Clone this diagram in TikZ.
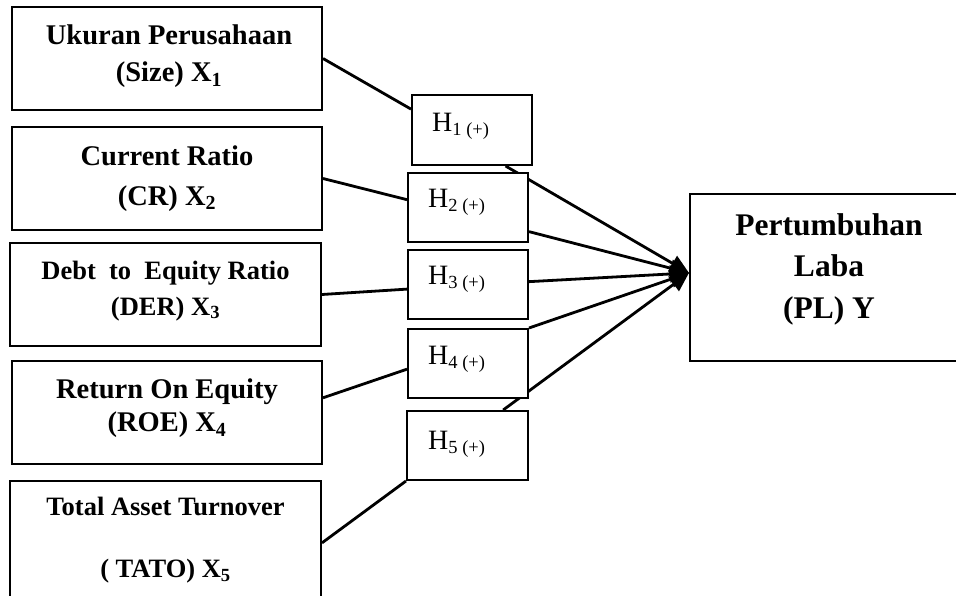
\documentclass[tikz,border=0pt]{standalone}
\usepackage{fontspec}
\setmainfont{Liberation Serif}
\usetikzlibrary{arrows.meta,calc}
\pgfdeclarelayer{bg}
\pgfsetlayers{bg,main}
\begin{document}
\begin{tikzpicture}[x=1pt,y=-1pt,
  varbox/.style={draw=black, line width=2pt, fill=white, minimum width=310pt, minimum height=103pt, inner sep=0pt},
  hbox/.style={draw=black, line width=2pt, fill=white, minimum width=120pt, minimum height=69pt, inner sep=0pt},
  txtA/.style={font=\bfseries\fontsize{28.5}{36.7}\selectfont, align=center, inner sep=0pt},
  txtB/.style={font=\bfseries\fontsize{26.5}{35.7}\selectfont, align=center, inner sep=0pt},
  htxt/.style={font=\fontsize{28}{30}\selectfont, inner sep=0pt, anchor=base west},
  link/.style={line width=2.8pt, black},
  arr/.style={link, -{Triangle[length=19pt,width=17pt]}}
]
\useasboundingbox (0,0) rectangle (956,596);
\clip (0,0) rectangle (956,596);

% variable boxes
\node[varbox] (X1) at (167,58.5) {};
\node[varbox] (X2) at (167,178.5) {};
\node[varbox, minimum width=311pt] (X3) at (165.5,294.5) {};
\node[varbox] (X4) at (167,412.5) {};
\node[varbox, minimum width=311pt, minimum height=129pt] (X5) at (165.5,545.5) {};
\node[draw=black, line width=2pt, fill=white, minimum width=280pt, minimum height=167pt, inner sep=0pt] (PL) at (830,277.5) {};

\node[txtA] (tX1) at (169,56.2) {Ukuran Perusahaan\\(Size) X\textsubscript{1}};
\node[txtA, font=\bfseries\fontsize{28.5}{39.5}\selectfont] (tX2) at (167,178.5) {Current Ratio\\(CR) X\textsubscript{2}};
\node[txtB] (tX3) at (165.5,290.8) {Debt~ to~ Equity Ratio\\(DER) X\textsubscript{3}};
\node[txtA, font=\bfseries\fontsize{28.5}{33.4}\selectfont] (tX4) at (167,408.2) {Return On Equity\\(ROE) X\textsubscript{4}};
\node[txtB, font=\bfseries\fontsize{26.5}{62}\selectfont] (tX5) at (165.5,540.6) {Total Asset Turnover\\( TATO) X\textsubscript{5}};
\node[txtA, font=\bfseries\fontsize{31.5}{41.7}\selectfont] (tPL) at (829,269.2) {Pertumbuhan\\Laba\\(PL) Y};

% hypothesis boxes
\node[hbox, minimum height=70pt] (H1) at (472,130) {};
\node[hbox] (H2) at (468,207.5) {};
\node[hbox] (H3) at (468,284.5) {};
\node[hbox] (H4) at (468,363.5) {};
\node[hbox, minimum width=121pt] (H5) at (467.5,445.5) {};

\node[htxt] (tH1) at ($(H1.north west)+(21,38)$) {H\raisebox{-4pt}{\fontsize{18.5}{18}\selectfont 1 (+)}};
\node[htxt] (tH2) at ($(H2.north west)+(21,35.3)$) {H\raisebox{-4pt}{\fontsize{18.5}{18}\selectfont 2 (+)}};
\node[htxt] (tH3) at ($(H3.north west)+(21,35)$) {H\raisebox{-4pt}{\fontsize{18.5}{18}\selectfont 3 (+)}};
\node[htxt] (tH4) at ($(H4.north west)+(21,36)$) {H\raisebox{-4pt}{\fontsize{18.5}{18}\selectfont 4 (+)}};
\node[htxt] (tH5) at ($(H5.north west)+(22,39)$) {H\raisebox{-4pt}{\fontsize{18.5}{18}\selectfont 5 (+)}};

\coordinate (tip) at ($(PL.north west)!0.473!(PL.south west)$);

\begin{pgfonlayer}{bg}
\draw[link] (X1.east) -- ($(H1.north west)!0.21!(H1.south west)$);
\draw[link] (X2.east) -- ($(H2.north west)!0.39!(H2.south west)$);
\draw[link] (X3.east) -- ($(H3.north west)!0.565!(H3.south west)$);
\draw[link] ($(X4.north east)!0.36!(X4.south east)$) -- ($(H4.north west)!0.58!(H4.south west)$);
\draw[link] ($(X5.north east)!0.48!(X5.south east)$) -- (H5.south west);

\draw[arr] ($(H1.south west)!0.775!(H1.south east)$) -- (tip);
\draw[arr] ($(H2.north east)!0.84!(H2.south east)$) -- (tip);
\draw[arr] ($(H3.north east)!0.46!(H3.south east)$) -- (tip);
\draw[arr] (H4.north east) -- (tip);
\draw[arr] ($(H5.north west)!0.79!(H5.north east)$) -- (tip);
\end{pgfonlayer}
\end{tikzpicture}
\end{document}
